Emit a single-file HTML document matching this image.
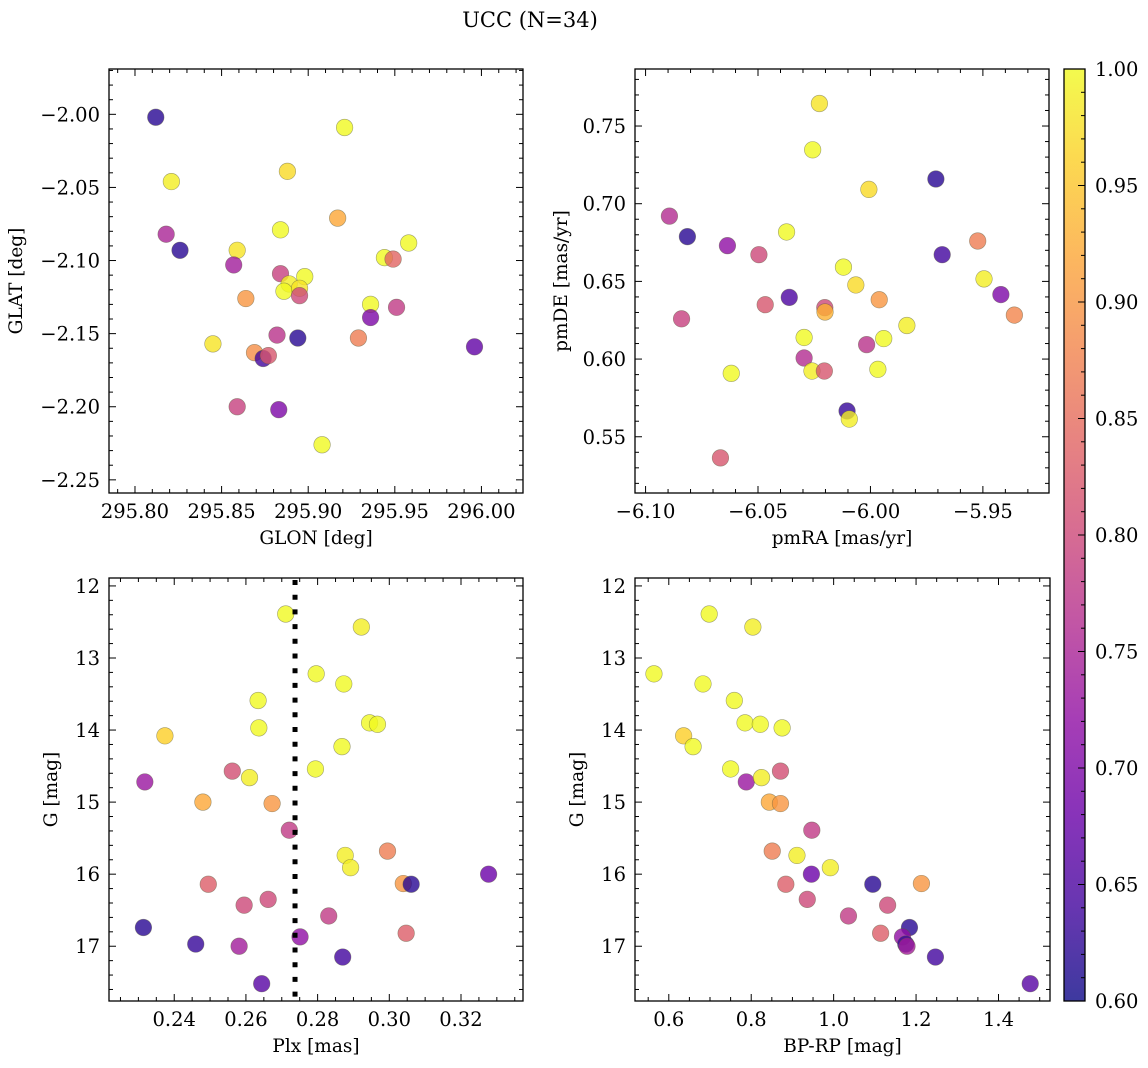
<!DOCTYPE html>
<html><head><meta charset="utf-8"><style>
html,body{margin:0;padding:0;background:#fff;}
svg{display:block;font-family:"DejaVu Serif","Liberation Serif",serif;}
</style></head><body>
<svg id="fig" width="1148" height="1068" viewBox="0 0 1148 1068" xmlns="http://www.w3.org/2000/svg">
<defs>
<linearGradient id="cbgrad" x1="0" y1="1" x2="0" y2="0">
<stop offset="0" stop-color="#0d0887"/><stop offset="0.1" stop-color="#41049d"/><stop offset="0.2" stop-color="#6a00a8"/><stop offset="0.3" stop-color="#8f0da4"/><stop offset="0.4" stop-color="#b12a90"/><stop offset="0.5" stop-color="#cc4778"/><stop offset="0.6" stop-color="#e16462"/><stop offset="0.7" stop-color="#f2844b"/><stop offset="0.8" stop-color="#fca636"/><stop offset="0.9" stop-color="#fcce25"/><stop offset="1" stop-color="#f0f921"/>
</linearGradient>
</defs>
<text x="530" y="27" font-size="21" text-anchor="middle">UCC (N=34)</text>
</svg>
<script>
// ---- Panel 1: GLON / GLAT ----
const glon = [295.812,295.921,295.821,295.888,295.818,295.826,295.917,295.884,295.859,295.958,295.857,295.944,295.949,295.884,295.898,295.889,295.886,295.895,295.895,295.864,295.936,295.951,295.936,295.882,295.929,295.894,295.996,295.845,295.869,295.874,295.877,295.859,295.883,295.908];
const glat = [-2.002,-2.009,-2.046,-2.039,-2.082,-2.093,-2.071,-2.079,-2.093,-2.088,-2.103,-2.098,-2.099,-2.109,-2.111,-2.116,-2.121,-2.119,-2.124,-2.126,-2.130,-2.132,-2.139,-2.151,-2.153,-2.153,-2.159,-2.157,-2.163,-2.167,-2.165,-2.200,-2.202,-2.226];
const probPos = [0.62,1.00,0.99,0.97,0.75,0.62,0.92,1.00,0.98,1.00,0.74,1.00,0.84,0.79,1.00,0.99,1.00,0.98,0.80,0.90,1.00,0.78,0.70,0.77,0.87,0.62,0.67,0.98,0.89,0.64,0.82,0.79,0.70,1.00];
// ---- Panel 2: pmRA / pmDE ----
const pmra = [-6.0227,-6.0257,-5.9709,-6.0894,-6.0007,-6.0814,-6.0373,-6.0636,-5.9523,-5.9681,-6.0496,-6.0120,-5.9495,-6.0065,-6.0361,-5.9420,-5.9961,-6.0203,-6.0468,-6.0202,-5.9360,-6.0840,-5.9838,-6.0295,-5.9941,-6.0017,-6.0295,-5.9967,-6.0260,-6.0205,-6.0619,-6.0104,-6.0094,-6.0667];
const pmde = [0.7645,0.7347,0.7159,0.6920,0.7092,0.6788,0.6818,0.6730,0.6760,0.6672,0.6672,0.6592,0.6516,0.6477,0.6397,0.6415,0.6382,0.6331,0.6350,0.6303,0.6283,0.6259,0.6216,0.6139,0.6132,0.6093,0.6007,0.5934,0.5923,0.5923,0.5908,0.5666,0.5614,0.5364];
const probPm = [0.98,1.00,0.62,0.76,0.97,0.62,1.00,0.72,0.87,0.64,0.80,1.00,0.99,0.97,0.65,0.70,0.90,0.80,0.82,0.93,0.88,0.79,0.99,1.00,1.00,0.77,0.76,1.00,0.99,0.82,1.00,0.63,0.99,0.82];
// ---- Panels 3 & 4: Plx, BP-RP, G ----
const plx = [0.2711,0.2922,0.2796,0.2873,0.2634,0.2374,0.2636,0.2945,0.2967,0.2868,0.2318,0.2562,0.2610,0.2794,0.2480,0.2673,0.2721,0.2995,0.2877,0.2892,0.3277,0.2495,0.3039,0.3061,0.2595,0.2662,0.2831,0.2314,0.3047,0.2751,0.2460,0.2581,0.2870,0.2644];
const gmag = [12.39,12.57,13.22,13.36,13.59,14.08,13.97,13.90,13.92,14.23,14.72,14.57,14.66,14.54,15.00,15.02,15.39,15.68,15.74,15.91,16.00,16.14,16.13,16.14,16.43,16.35,16.58,16.74,16.82,16.87,16.97,17.00,17.15,17.52];
const bprp = [0.698,0.804,0.564,0.683,0.759,0.636,0.875,0.785,0.822,0.659,0.788,0.871,0.825,0.750,0.844,0.871,0.947,0.851,0.911,0.992,0.946,0.884,1.213,1.095,1.131,0.936,1.036,1.184,1.114,1.167,1.175,1.178,1.247,1.477];
const probPhot = [1.00,0.99,1.00,1.00,1.00,0.96,1.00,1.00,1.00,1.00,0.73,0.81,0.99,1.00,0.92,0.90,0.78,0.87,0.99,0.99,0.68,0.83,0.90,0.62,0.80,0.80,0.78,0.62,0.83,0.72,0.63,0.74,0.64,0.66];
const plxLine = 0.2737;
// tick labels
const ticks1x = [295.80,295.85,295.90,295.95,296.00];
const ticks1y = [-2.00,-2.05,-2.10,-2.15,-2.20,-2.25];
const ticks2x = [-6.10,-6.05,-6.00,-5.95];
const ticks2y = [0.55,0.60,0.65,0.70,0.75];
const ticks3x = [0.24,0.26,0.28,0.30,0.32];
const ticksG = [12,13,14,15,16,17];
const ticks4x = [0.6,0.8,1.0,1.2,1.4];
const ticksCb = [0.60,0.65,0.70,0.75,0.80,0.85,0.90,0.95,1.00];

const NS = "http://www.w3.org/2000/svg";
const svg = document.getElementById('fig');
const TF = 19.5, LF = 18.5;
const stops = [[13,8,135],[65,4,157],[106,0,168],[143,13,164],[177,42,144],[204,71,120],[225,100,98],[242,132,75],[252,166,54],[252,206,37],[240,249,33]];
function plasma(v){
  let t = (v-0.6)/0.4; t=Math.max(0,Math.min(1,t));
  const f=t*10, i=Math.min(9,Math.floor(f)), r=f-i;
  const c=stops[i].map((a,k)=>Math.round(a+(stops[i+1][k]-a)*r));
  return `rgb(${c[0]},${c[1]},${c[2]})`;
}
function mk(tag, attrs, parent){
  const e=document.createElementNS(NS,tag);
  for(const k in attrs) e.setAttribute(k,attrs[k]);
  (parent||svg).appendChild(e); return e;
}
function fmt(v,d){ const s=Math.abs(v).toFixed(d); return (v<0?'\u2212':'')+s; }

function panel(name, box, xlim, ylim, invertY){
  const g=mk('g',{});
  
  
  const sx=v=>box.x0+(v-xlim[0])/(xlim[1]-xlim[0])*(box.x1-box.x0);
  const sy=invertY ? (v=>box.y0+(v-ylim[0])/(ylim[1]-ylim[0])*(box.y1-box.y0))
                   : (v=>box.y1-(v-ylim[0])/(ylim[1]-ylim[0])*(box.y1-box.y0));
  return {g,sx,sy,box};
}
function axes(p, xt, xd, xminor, yt, yd, yminor, xlabel, ylabel, ylabX, xlim, ylim){
  const {g,sx,sy,box}=p;
  const tg=mk('g',{stroke:'#000','stroke-width':1},g);
  const lo=Math.min(...xlim), hi=Math.max(...xlim);
  const n0=Math.ceil(lo/xminor-1e-6), n1=Math.floor(hi/xminor+1e-6);
  for(let n=n0;n<=n1;n++){
    const v=n*xminor; const major=xt.some(t=>Math.abs(t-v)<xminor/10);
    const L=major?7:4, x=sx(v);
    mk('line',{x1:x,x2:x,y1:box.y1,y2:box.y1-L},tg);
    mk('line',{x1:x,x2:x,y1:box.y0,y2:box.y0+L},tg);
  }
  const ylo=Math.min(...ylim), yhi=Math.max(...ylim);
  const m0=Math.ceil(ylo/yminor-1e-6), m1=Math.floor(yhi/yminor+1e-6);
  for(let n=m0;n<=m1;n++){
    const v=n*yminor; const major=yt.some(t=>Math.abs(t-v)<yminor/10);
    const L=major?7:4, y=sy(v);
    mk('line',{x1:box.x0,x2:box.x0+L,y1:y,y2:y},tg);
    mk('line',{x1:box.x1,x2:box.x1-L,y1:y,y2:y},tg);
  }
  xt.forEach(v=>{
    const t=mk('text',{x:sx(v),y:box.y1+25,'font-size':TF,'text-anchor':'middle'},g);
    
    
    t.textContent=fmt(v,xd);
  });
  yt.forEach(v=>{
    const t=mk('text',{x:box.x0-9,y:sy(v)+7,'font-size':TF,'text-anchor':'end'},g);
    
    
    t.textContent=fmt(v,yd);
  });
  const xl=mk('text',{x:(box.x0+box.x1)/2,y:box.y1+51,'font-size':LF,'text-anchor':'middle'},g);
  
  
  xl.textContent=xlabel;
  const cy=(box.y0+box.y1)/2;
  const yl=mk('text',{x:ylabX,y:cy,'font-size':LF,'text-anchor':'middle',transform:`rotate(-90 ${ylabX} ${cy})`},g);
  
  
  yl.textContent=ylabel;
  const fr=mk('rect',{x:box.x0,y:box.y0,width:box.x1-box.x0,height:box.y1-box.y0,fill:'none',stroke:'#000','stroke-width':1.3},g);
  
  
}
function scatter(p, xs, ys, cs){
  const pg=mk('g',{},p.g);
  xs.forEach((v,i)=>{
    const c=mk('circle',{cx:p.sx(v),cy:p.sy(ys[i]),r:8.3,fill:plasma(cs[i]),'fill-opacity':0.8,stroke:'rgba(90,90,60,0.55)','stroke-width':0.6},pg);
    
    
  });
}

// Panel 1
const xl1=[295.785,296.024], yl1=[-2.259,-1.969];
const p1=panel('panel-glon-glat',{x0:109,x1:523,y0:69,y1:493},xl1,yl1,false);
scatter(p1,glon,glat,probPos);
axes(p1,ticks1x,2,0.01,ticks1y,2,0.01,'GLON [deg]','GLAT [deg]',22,xl1,yl1);

// Panel 2
const xl2=[-6.1047,-5.9206], yl2=[0.5138,0.7867];
const p2=panel('panel-pmra-pmde',{x0:635,x1:1049,y0:69,y1:493},xl2,yl2,false);
scatter(p2,pmra,pmde,probPm);
axes(p2,ticks2x,2,0.01,ticks2y,2,0.01,'pmRA [mas/yr]','pmDE [mas/yr]',567,xl2,yl2);

// Panel 3
const xl3=[0.2218,0.3373], yl3=[11.89,17.76];
const p3=panel('panel-plx-g',{x0:109,x1:523,y0:578,y1:1001},xl3,yl3,true);
scatter(p3,plx,gmag,probPhot);
const ln=mk('line',{x1:p3.sx(plxLine),x2:p3.sx(plxLine),y1:580,y2:1001,stroke:'#000','stroke-width':5,'stroke-dasharray':'5 9.7'},p3.g);


axes(p3,ticks3x,2,0.005,ticksG,0,0.2,'Plx [mas]','G [mag]',57,xl3,yl3);

// Panel 4
const xl4=[0.518,1.525];
const p4=panel('panel-bprp-g',{x0:635,x1:1050,y0:578,y1:1001},xl4,yl3,true);
scatter(p4,bprp,gmag,probPhot);
axes(p4,ticks4x,1,0.05,ticksG,0,0.2,'BP-RP [mag]','G [mag]',583,xl4,yl3);

// Colorbar
const cb=mk('g',{});


const cbx0=1064, cbx1=1085, cby0=69, cby1=1001;
const cbs=v=>cby1-(v-0.6)/0.4*(cby1-cby0);
mk('rect',{x:cbx0,y:cby0,width:cbx1-cbx0,height:cby1-cby0,fill:'url(#cbgrad)','fill-opacity':0.8},cb);
mk('rect',{x:cbx0,y:cby0,width:cbx1-cbx0,height:cby1-cby0,fill:'none',stroke:'#000','stroke-width':1.3},cb);
for(let n=60;n<=100;n++){
  const y=cbs(n/100), major=n%5===0;
  mk('line',{x1:cbx1,x2:cbx1-(major?7:4),y1:y,y2:y,stroke:'#000','stroke-width':1},cb);
}
ticksCb.forEach(v=>{
  const t=mk('text',{x:1095,y:cbs(v)+7,'font-size':TF},cb);
  
  
  t.textContent=v.toFixed(2);
});
</script>
</body></html>
